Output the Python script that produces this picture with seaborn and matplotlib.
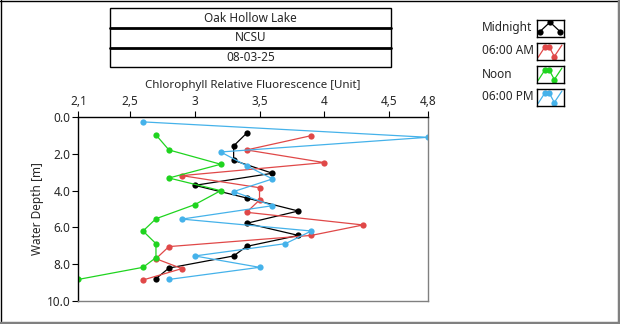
import numpy as np
import pandas as pd
import matplotlib
matplotlib.use("Agg")
import matplotlib.pyplot as plt
from matplotlib.lines import Line2D
from matplotlib.patches import Rectangle
import seaborn as sns

# Profile readings: chlorophyll relative fluorescence vs. water depth
midnight_val = [3.4, 3.3, 3.3, 3.6, 3.0, 3.4, 3.8, 3.4, 3.8, 3.4, 3.3, 2.8, 2.7]
midnight_depth = [0.87, 1.56, 2.35, 3.05, 3.71, 4.40, 5.11, 5.78, 6.44, 7.04, 7.56, 8.22, 8.80]

am6_val = [3.9, 3.4, 4.0, 2.9, 3.5, 3.5, 3.4, 4.3, 3.9, 2.8, 2.7, 2.9, 2.6]
am6_depth = [1.00, 1.78, 2.47, 3.18, 3.84, 4.51, 5.18, 5.87, 6.44, 7.05, 7.71, 8.25, 8.87]

noon_val = [2.7, 2.8, 3.2, 2.8, 3.2, 3.0, 2.7, 2.6, 2.7, 2.7, 2.6, 2.1]
noon_depth = [0.96, 1.78, 2.56, 3.31, 4.00, 4.76, 5.53, 6.20, 6.89, 7.65, 8.18, 8.84]

pm6_val = [2.6, 4.8, 3.2, 3.4, 3.6, 3.3, 3.6, 2.9, 3.9, 3.7, 3.0, 3.5, 2.8]
pm6_depth = [0.25, 1.09, 1.89, 2.64, 3.36, 4.05, 4.82, 5.55, 6.20, 6.89, 7.56, 8.18, 8.84]

series_names = ["Midnight", "06:00 AM", "Noon", "06:00 PM"]
series_colors = ["#000000", "#e04848", "#1fd41f", "#45b2ea"]

title_lines = ["Oak Hollow Lake", "NCSU", "08-03-25"]
x_ticks = [2.1, 2.5, 3, 3.5, 4, 4.5, 4.8]
x_tick_labels = ["2,1", "2,5", "3", "3,5", "4", "4,5", "4,8"]
y_ticks = [0, 2, 4, 6, 8, 10]
y_tick_labels = ["0.0", "2.0", "4.0", "6.0", "8.0", "10.0"]

frames = []
for name, vals, deps in [("Midnight", midnight_val, midnight_depth),
                         ("06:00 AM", am6_val, am6_depth),
                         ("Noon", noon_val, noon_depth),
                         ("06:00 PM", pm6_val, pm6_depth)]:
    frames.append(pd.DataFrame({"value": vals, "depth": deps, "series": name}))
df = pd.concat(frames, ignore_index=True)

sns.set_theme(style="white")
plt.rcParams["font.family"] = ["Noto Sans", "DejaVu Sans"]

W, H = 620, 324
fig = plt.figure(figsize=(W / 100, H / 100), dpi=100)
fig.patch.set_facecolor("white")

def fx(px):
    return px / W

def fy(py):
    return 1 - py / H

# Main plot area
ax = fig.add_axes([fx(78.3), fy(300.7), fx(427.8 - 78.3), (300.7 - 117.3) / H])
palette = dict(zip(series_names, series_colors))
sns.lineplot(data=df, x="value", y="depth", hue="series", hue_order=series_names,
             palette=palette, sort=False, estimator=None, marker="o",
             markersize=4.5, markeredgewidth=0, linewidth=0.9, ax=ax, legend=False)

ax.set_xlim(2.1, 4.8)
ax.set_ylim(10, 0)
ax.xaxis.tick_top()
ax.xaxis.set_label_position("top")
ax.set_xticks(x_ticks)
ax.set_xticklabels(x_tick_labels)
ax.set_yticks(y_ticks)
ax.set_yticklabels(y_tick_labels)
ax.tick_params(axis="both", which="major", direction="out", length=4, width=0.8,
               color="black", labelsize=8.5, top=True, bottom=False, left=True)
ax.tick_params(axis="x", pad=3)
ax.tick_params(axis="y", pad=1.5)
ax.set_xlabel("Chlorophyll Relative Fluorescence [Unit]", fontsize=8.3, labelpad=5)
ax.set_ylabel("Water Depth [m]", fontsize=8.5, labelpad=2)
ax.grid(False)
for side, col in [("top", "black"), ("left", "black"), ("bottom", "#808080"), ("right", "#808080")]:
    ax.spines[side].set_visible(True)
    ax.spines[side].set_color(col)
    ax.spines[side].set_linewidth(1.0)

# Title block with three stacked rows
tax = fig.add_axes([fx(110), fy(67.3), fx(390.7 - 110), (67.3 - 8.3) / H])
tax.set_xlim(0, 1)
tax.set_ylim(0, 3)
tax.axis("off")
tax.add_patch(Rectangle((0, 0), 1, 3, fill=False, edgecolor="black", linewidth=1.0,
                        clip_on=False))
for yy in (1, 2):
    tax.plot([0, 1], [yy, yy], color="black", linewidth=2.0, clip_on=False)
for i, t in enumerate(title_lines):
    tax.text(0.5, 2.5 - i, t, ha="center", va="center", fontsize=8.5)

# Legend: labels with small glyph boxes
glyph_x = {
    "Midnight": ([0.12, 0.5, 0.88], [0.3, 0.85, 0.3], [0, 1, 2]),
}
wave = ([0.06, 0.3, 0.48, 0.66, 0.94], [0.15, 0.72, 0.72, 0.2, 0.85], [1, 2, 3])
row_tops = [19.5, 42.5, 65.5, 88.5]
for name, col, top in zip(series_names, series_colors, row_tops):
    fig.text(fx(482), fy(top + 8.5), name, ha="left", va="center", fontsize=8.5)
    gax = fig.add_axes([fx(536.5), fy(top + 17.5), fx(563.5 - 536.5), 17.5 / H])
    gax.set_xlim(0, 1)
    gax.set_ylim(0, 1)
    gax.set_xticks([])
    gax.set_yticks([])
    for s in gax.spines.values():
        s.set_color("black")
        s.set_linewidth(1.0)
    xs, ys, mk = glyph_x.get(name, wave)
    gax.plot(xs, ys, color=col, linewidth=0.9)
    gax.plot([xs[k] for k in mk], [ys[k] for k in mk], "o", color=col,
             markersize=4.5, markeredgewidth=0)

# Panel frame: dark edge on top/left, grey raised edge on right/bottom
fig.add_artist(Line2D([fx(1), fx(1)], [fy(0), fy(321)], color="black", linewidth=1.0))
fig.add_artist(Line2D([fx(0), fx(618)], [fy(0.5), fy(0.5)], color="black", linewidth=1.0))
fig.add_artist(Line2D([fx(0), fx(620)], [fy(322.5), fy(322.5)], color="#808080", linewidth=2.5))
fig.add_artist(Line2D([fx(618.8), fx(618.8)], [fy(0), fy(324)], color="#808080", linewidth=2.5))

fig.savefig("out.png", dpi=100, facecolor="white")
